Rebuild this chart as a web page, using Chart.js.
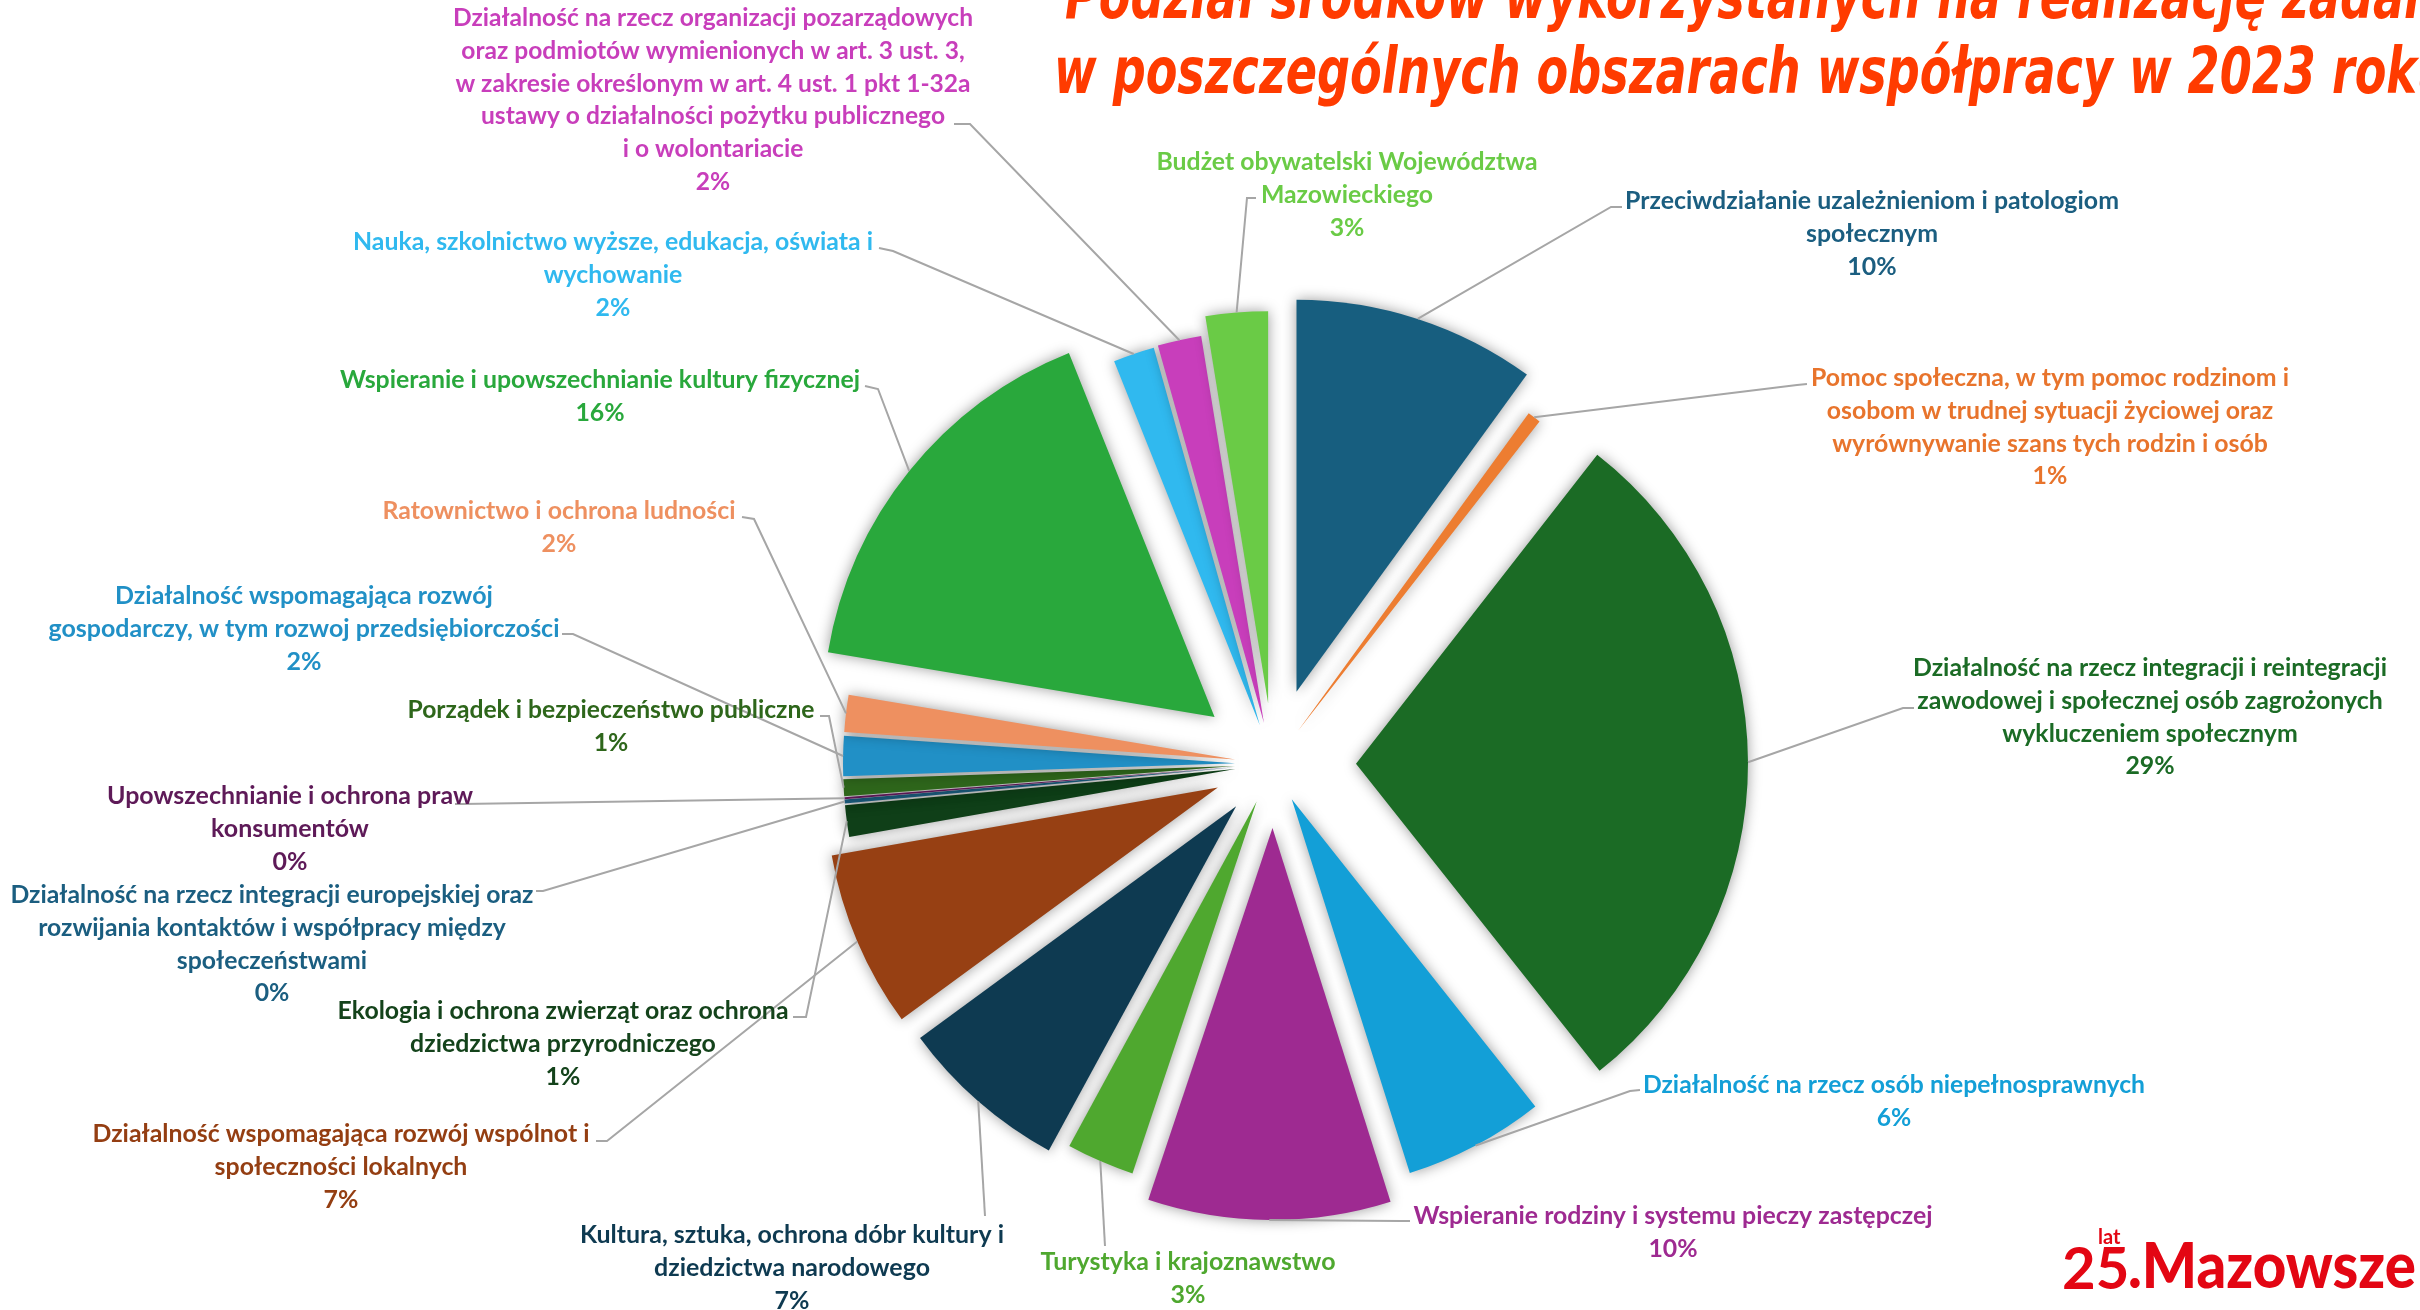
<!DOCTYPE html>
<html>
<head>
<meta charset="utf-8">
<script src="https://cdn.jsdelivr.net/npm/chart.js@4.4.1/dist/chart.umd.min.js"></script>
<style>
  html, body { margin: 0; padding: 0; background: #fff; }
  #wrap { width: 2420px; height: 1310px; }
</style>
</head>
<body>
<div id="wrap"><canvas id="chart" width="2420" height="1310"></canvas></div>
<script>
// obszary współpracy (kolejność jak na wykresie, od godziny 12 zgodnie z ruchem wskazówek)
const categories = [
  ['Przeciwdziałanie uzależnieniom i patologiom', 'społecznym'],
  ['Pomoc społeczna, w tym pomoc rodzinom i', 'osobom w trudnej sytuacji życiowej oraz', 'wyrównywanie szans tych rodzin i osób'],
  ['Działalność na rzecz integracji i reintegracji', 'zawodowej i społecznej osób zagrożonych', 'wykluczeniem społecznym'],
  ['Działalność na rzecz osób niepełnosprawnych'],
  ['Wspieranie rodziny i systemu pieczy zastępczej'],
  ['Turystyka i krajoznawstwo'],
  ['Kultura, sztuka, ochrona dóbr kultury i', 'dziedzictwa narodowego'],
  ['Działalność wspomagająca rozwój wspólnot i', 'społeczności lokalnych'],
  ['Ekologia i ochrona zwierząt oraz ochrona', 'dziedzictwa przyrodniczego'],
  ['Działalność na rzecz integracji europejskiej oraz', 'rozwijania kontaktów i współpracy między', 'społeczeństwami'],
  ['Upowszechnianie i ochrona praw', 'konsumentów'],
  ['Porządek i bezpieczeństwo publiczne'],
  ['Działalność wspomagająca rozwój', 'gospodarczy, w tym rozwoj przedsiębiorczości'],
  ['Ratownictwo i ochrona ludności'],
  ['Wspieranie i upowszechnianie kultury fizycznej'],
  ['Nauka, szkolnictwo wyższe, edukacja, oświata i', 'wychowanie'],
  ['Działalność na rzecz organizacji pozarządowych', 'oraz podmiotów wymienionych w art. 3 ust. 3,', 'w zakresie określonym w art. 4 ust. 1 pkt 1-32a', 'ustawy o działalności pożytku publicznego', 'i o wolontariacie'],
  ['Budżet obywatelski Województwa', 'Mazowieckiego']
];

// udział środków (%)
const shares = [10.0, 0.55, 28.78, 5.8, 10.0, 2.8, 7.0, 7.3, 1.3, 0.16, 0.08, 0.7, 1.65, 1.52, 16.3, 1.7, 1.8, 2.56];

const titleLines = ['Podział środków wykorzystanych na realizację zadań', 'w poszczególnych obszarach współpracy w 2023 roku'];

// kolory wycinków i etykiet
const sliceColors = ['#175E7F', '#ED7D31', '#1B6B25', '#139FD7', '#9E2A91', '#4FA82F', '#0E3A51', '#974013', '#0F3F18',
  '#1C5E80', '#6A1B62', '#2E661B', '#2190C6', '#EE9060', '#29A83C', '#30B9EF', '#C83EBB', '#6ACB46'];
const labelColors = ['#1B5E80', '#E8742C', '#1B6B25', '#139FD7', '#9E2A91', '#4FA82F', '#0E3A51', '#943E12', '#14431B',
  '#1B5E80', '#5E1A58', '#2E661B', '#2190C6', '#EE9060', '#29A83C', '#30B9EF', '#C83EBB', '#6ACB46'];

// wysunięcie wycinków (px)
const explode = [76, 42, 83, 40, 64, 41, 56, 60, 38, 38, 38, 38, 38, 38, 75, 41, 42, 61];

// rozmieszczenie etykiet: środek tekstu, pierwsza linia, szerokość wzorcowej linii, punkt końcowy linii odniesienia
const labelLayout = [
  { cx: 1872, y: 201, w: 494, ref: 0, end: [1622, 207], elbow: [1611, 207] },
  { cx: 2050, y: 378, w: 478, ref: 0, end: [1807, 384], elbow: [1797, 385] },
  { cx: 2150, y: 668, w: 474, ref: 0, end: [1914, 708], elbow: [1903, 708] },
  { cx: 1894, y: 1085, w: 502, ref: 0, end: [1640, 1090], elbow: [1630, 1091] },
  { cx: 1673, y: 1216, w: 519, ref: 0, end: [1410, 1221], elbow: [1400, 1221] },
  { cx: 1188, y: 1262, w: 295, ref: 0, end: [1105, 1246], elbow: [1105, 1246] },
  { cx: 792, y: 1235, w: 424, ref: 0, end: [985, 1216], elbow: [985, 1216] },
  { cx: 341, y: 1134, w: 497, ref: 0, end: [596, 1141], elbow: [607, 1141] },
  { cx: 563, y: 1011, w: 451, ref: 0, end: [793, 1017], elbow: [806, 1017] },
  { cx: 272, y: 895, w: 523, ref: 0, end: [536, 891], elbow: [543, 891] },
  { cx: 290, y: 796, w: 366, ref: 0, end: [455, 804], elbow: [462, 804] },
  { cx: 611, y: 710, w: 407, ref: 0, end: [820, 716], elbow: [829, 716] },
  { cx: 304, y: 596, w: 511, ref: 1, end: [562, 634], elbow: [573, 634] },
  { cx: 559, y: 511, w: 353, ref: 0, end: [742, 517], elbow: [754, 519] },
  { cx: 600, y: 380, w: 520, ref: 0, end: [865, 386], elbow: [878, 389] },
  { cx: 613, y: 242, w: 520, ref: 0, end: [879, 248], elbow: [893, 251] },
  { cx: 713, y: 18, w: 520, ref: 0, end: [954, 124], elbow: [970, 124] },
  { cx: 1347, y: 162, w: 381, ref: 0, end: [1256, 198], elbow: [1247, 198] }
];

const LABEL_FONT = 'bold 24px Lato';
const LINE_H = 32.9;

// rysowanie wysuniętych wycinków z cieniem
const explodePlugin = {
  id: 'explode',
  beforeDatasetDraw(chart, args) {
    const ctx = chart.ctx;
    ctx.save();
    ctx.shadowColor = 'rgba(0,0,0,0.4)';
    ctx.shadowBlur = 14;
    args.meta.data.forEach((arc, i) => {
      const mid = (arc.startAngle + arc.endAngle) / 2;
      ctx.save();
      ctx.translate(Math.cos(mid) * explode[i], Math.sin(mid) * explode[i]);
      arc.draw(ctx);
      ctx.restore();
    });
    ctx.restore();
    return false;
  }
};

// etykiety, linie odniesienia, tytuł i logo
const labelsPlugin = {
  id: 'labels',
  afterDatasetsDraw(chart) {
    const ctx = chart.ctx;
    const meta = chart.getDatasetMeta(0);
    const total = shares.reduce((a, b) => a + b, 0);

    ctx.save();
    // linie odniesienia
    ctx.strokeStyle = '#A6A6A6';
    ctx.lineWidth = 2;
    meta.data.forEach((arc, i) => {
      const mid = (arc.startAngle + arc.endAngle) / 2;
      const r = arc.outerRadius + explode[i];
      const px = arc.x + Math.cos(mid) * r;
      const py = arc.y + Math.sin(mid) * r;
      const L = labelLayout[i];
      ctx.beginPath();
      ctx.moveTo(px, py);
      ctx.lineTo(L.elbow[0], L.elbow[1]);
      ctx.lineTo(L.end[0], L.end[1]);
      ctx.stroke();
    });

    // teksty etykiet
    ctx.font = LABEL_FONT;
    ctx.textAlign = 'center';
    ctx.textBaseline = 'middle';
    categories.forEach((lines, i) => {
      const L = labelLayout[i];
      const pct = Math.round(shares[i] / total * 100) + '%';
      const all = lines.concat([pct]);
      const sx = L.w / ctx.measureText(lines[L.ref]).width;
      ctx.fillStyle = labelColors[i];
      all.forEach((t, j) => {
        ctx.save();
        ctx.translate(L.cx, L.y + j * LINE_H);
        ctx.scale(sx, 1);
        ctx.fillText(t, 0, 0);
        ctx.restore();
      });
    });

    // tytuł (wychodzi poza kadr)
    ctx.font = "italic bold 64px 'DejaVu Sans Condensed', 'DejaVu Sans'";
    ctx.textAlign = 'left';
    ctx.textBaseline = 'alphabetic';
    ctx.fillStyle = '#FF3B00';
    const visible2 = titleLines[1].slice(0, -1);
    const tsx = (2417 - 1054) / ctx.measureText(visible2).width;
    [[titleLines[0], 1065, 18], [titleLines[1], 1054, 93]].forEach(([t, x, y]) => {
      ctx.save();
      ctx.translate(x, y);
      ctx.scale(tsx, 1);
      ctx.fillText(t, 0, 0);
      ctx.restore();
    });

    // logo
    ctx.fillStyle = '#E30613';
    ctx.font = "bold 58px 'Lato'";
    ctx.fillText('25', 2062, 1289);
    ctx.font = "bold 20px 'Lato'";
    ctx.fillText('lat', 2098, 1244);
    ctx.font = "900 62px 'Lato'";
    const mw = ctx.measureText('.Mazowsze').width;
    ctx.save();
    ctx.translate(2128, 1288);
    ctx.scale((2416 - 2128) / mw, 1);
    ctx.fillText('.Mazowsze', 0, 0);
    ctx.restore();

    ctx.restore();
  }
};

new Chart(document.getElementById('chart'), {
  type: 'pie',
  data: {
    labels: categories,
    datasets: [{
      data: shares,
      backgroundColor: sliceColors,
      borderWidth: 0,
      radius: 392,
      clip: false
    }]
  },
  options: {
    responsive: false,
    animation: false,
    layout: { padding: { left: 126, top: 218, right: 0, bottom: 0 } },
    plugins: {
      legend: { display: false },
      tooltip: { enabled: false },
      title: { display: false }
    }
  },
  plugins: [explodePlugin, labelsPlugin]
});
</script>
</body>
</html>
